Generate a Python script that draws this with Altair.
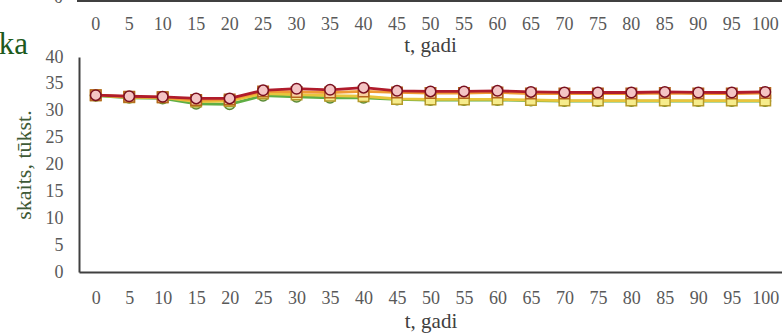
import altair as alt
import pandas as pd

# time axis, years
years = list(range(0, 101, 5))

# population, thousands, four series
red_vals = [32.9, 32.7, 32.6, 32.3, 32.3, 33.8, 34.1, 33.9, 34.3, 33.7, 33.6,
            33.6, 33.7, 33.5, 33.4, 33.4, 33.4, 33.5, 33.4, 33.4, 33.5]
orange_vals = [32.9, 32.6, 32.5, 32.0, 32.1, 33.6, 33.5, 33.4, 33.6, 33.4, 33.3,
               33.3, 33.4, 33.2, 33.2, 33.2, 33.2, 33.3, 33.2, 33.2, 33.3]
green_vals = [32.8, 32.4, 32.3, 31.3, 31.2, 32.8, 32.6, 32.4, 32.4, 32.1, 32.0,
              32.0, 32.0, 31.9, 31.8, 31.8, 31.8, 31.8, 31.8, 31.8, 31.8]
yellow_vals = [32.9, 32.5, 32.5, 31.7, 31.8, 33.2, 33.0, 32.8, 32.7, 32.2, 32.1,
               32.1, 32.1, 32.0, 31.9, 31.9, 31.9, 31.9, 31.9, 31.9, 31.9]

y_ticks = list(range(0, 41, 5))

FONT = "Liberation Serif"
W, H = 703, 215

# line colour, marker shape, marker fill, marker outline (drawn bottom to top)
styles = [
    ("green", green_vals, "#5fae45", "circle", "#c9e6a8", "#5a8a35"),
    ("yellow", yellow_vals, "#e8c53c", "square", "#f6ec8c", "#b59a2a"),
    ("orange", orange_vals, "#f09a35", "square", "#f8d0a0", "#b5651d"),
    ("red", red_vals, "#b01c2c", "circle", "#f4c4c4", "#7a1020"),
]

x_scale = alt.Scale(domain=[-2.5, 102.5], nice=False, zero=False)
y_scale = alt.Scale(domain=[0, 40], nice=False)

x_axis = alt.Axis(
    values=years, title="t, gadi", grid=False, ticks=False,
    labelFont=FONT, labelFontSize=18, labelColor="#595959", labelPadding=17,
    labelFlush=False, labelOverlap=False,
    domainColor="#404040", domainWidth=2,
    titleFont=FONT, titleFontSize=21, titleFontWeight="normal",
    titleColor="#404040", titlePadding=3,
)
y_axis = alt.Axis(
    values=y_ticks, title="skaits, tūkst.", grid=False, ticks=False,
    labelFont=FONT, labelFontSize=18, labelColor="#595959", labelPadding=16,
    labelOverlap=False, labelFlush=False,
    domainColor="#404040", domainWidth=2,
    titleFont=FONT, titleFontSize=22, titleFontWeight="normal",
    titleColor="#3f5a36", titlePadding=10,
)

xe = alt.X("t:Q", scale=x_scale, axis=x_axis)
ye = alt.Y("v:Q", scale=y_scale, axis=y_axis)

layers = []
for name, vals, col, shape, fill, outline in styles:
    df = pd.DataFrame({"t": years, "v": vals})
    base = alt.Chart(df)
    line = base.mark_line(color=col, strokeWidth=2.8).encode(x=xe, y=ye)
    pts = base.mark_point(
        shape=shape, size=110, filled=True, fill=fill, stroke=outline,
        strokeWidth=1.5, opacity=1
    ).encode(x=xe, y=ye)
    layers += [line, pts]

# bottom edge of the panel above: axis line, tick labels and axis title
top_df = pd.DataFrame({"t": years, "lab": [str(v) for v in years]})
top_labels = alt.Chart(top_df).mark_text(
    font=FONT, fontSize=18, color="#595959", baseline="middle"
).encode(x=xe, y=alt.value(-32), text="lab:N")

one = pd.DataFrame({"k": [0]})
top_rule = alt.Chart(one).mark_rule(color="#404040", strokeWidth=2).encode(
    x=alt.value(-2), x2=alt.value(W + 10), y=alt.value(-56)
)
top_title = alt.Chart(one).mark_text(
    text="t, gadi", font=FONT, fontSize=21, color="#404040", baseline="middle"
).encode(x=alt.value(W / 2), y=alt.value(-11))
top_zero = alt.Chart(one).mark_text(
    text="0", font=FONT, fontSize=18, color="#595959", baseline="middle",
    align="right"
).encode(x=alt.value(-16), y=alt.value(-59))
title_tail = alt.Chart(one).mark_text(
    text="ka", font=FONT, fontSize=31, color="#1d5a1d", baseline="middle",
    align="right"
).encode(x=alt.value(-51), y=alt.value(-12))

chart = alt.layer(
    *layers, top_rule, top_labels, top_title, top_zero, title_tail
).properties(
    width=W, height=H,
    autosize=alt.AutoSizeParams(type="none"),
    padding={"left": 79, "top": 57, "right": 0, "bottom": 64},
).configure_view(stroke=None).configure_axis(labelOverlap=False)

chart.save("out.html", embed_options={"renderer": "svg", "actions": False})
